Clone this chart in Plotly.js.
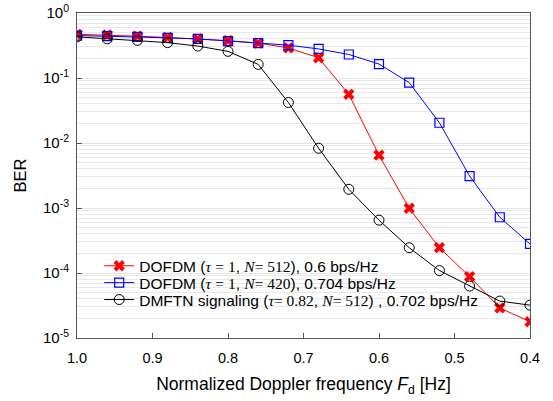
<!DOCTYPE html>
<html>
<head>
<meta charset="utf-8">
<script src="https://cdn.plot.ly/plotly-3.0.1.min.js"></script>
<style>html,body{margin:0;padding:0;background:#fff}#chart{width:553px;height:401px}</style>
</head>
<body>
<div id="chart"></div>
<script>
const fd = [1.0, 0.96, 0.92, 0.88, 0.84, 0.80, 0.76, 0.72, 0.68, 0.64, 0.60, 0.56, 0.52, 0.48, 0.44, 0.40];
const berDofdm512 = [0.47, 0.46, 0.44, 0.42, 0.40, 0.375, 0.345, 0.29, 0.205, 0.056, 0.0065, 0.00099, 0.000245, 8.8e-5, 2.9e-5, 1.78e-5];
const berDofdm420 = [0.45, 0.44, 0.43, 0.415, 0.40, 0.37, 0.345, 0.32, 0.28, 0.23, 0.164, 0.085, 0.0205, 0.0031, 0.00072, 0.00028];
const berDmftn = [0.43, 0.40, 0.38, 0.35, 0.31, 0.257, 0.162, 0.042, 0.0083, 0.00194, 0.00065, 0.000245, 0.000109, 6.3e-5, 3.7e-5, 3.2e-5];
const xTicks = [1.0, 0.9, 0.8, 0.7, 0.6, 0.5, 0.4];
const xTickText = ['1.0', '0.9', '0.8', '0.7', '0.6', '0.5', '0.4'];
const yTicks = [1e-5, 1e-4, 1e-3, 1e-2, 1e-1, 1];
const yTickText = ['10<sup>-5</sup>', '10<sup>-4</sup>', '10<sup>-3</sup>', '10<sup>-2</sup>', '10<sup>-1</sup>', '10<sup>0</sup>'];

const minorVals = [];
for (let e = -5; e < 0; e++) for (let m = 2; m <= 9; m++) minorVals.push(m * Math.pow(10, e));

const serif = 'font-family:Liberation Serif,Times New Roman,serif';
const tau = '<i><span style="' + serif + '">τ</span></i>';
const nn = '<i><span style="' + serif + '">N</span></i>';
const num = s => '<span style="' + serif + '">' + s + '</span>';

const traces = [
  {x: fd, y: berDofdm512, name: 'DOFDM (' + tau + ' ' + num('= 1') + ', ' + nn + num('= 512') + '), 0.6 bps/Hz',
   legend: 'legend',
   mode: 'lines+markers', line: {color: '#ff0000', width: 1},
   marker: {symbol: 'x', size: 10, color: '#ff0000', line: {width: 0}}},
  {x: fd, y: berDofdm420, name: 'DOFDM (' + tau + ' ' + num('= 1') + ', ' + nn + num('= 420') + '), 0.704 bps/Hz',
   legend: 'legend2',
   mode: 'lines+markers', line: {color: '#0000ff', width: 1},
   marker: {symbol: 'square-open', size: 9, color: '#0000ff', line: {width: 1.2}}},
  {x: fd, y: berDmftn, name: 'DMFTN signaling (' + tau + num('= 0.82') + ', ' + nn + num('= 512') + ') , 0.702 bps/Hz',
   legend: 'legend3',
   mode: 'lines+markers', line: {color: '#000000', width: 1},
   marker: {symbol: 'circle-open', size: 10, color: '#000000', line: {width: 1}}}
];

function leg(y) {
  return {x: 0.049, y: y, xanchor: 'left', yanchor: 'middle', bgcolor: 'rgba(0,0,0,0)', borderwidth: 0,
          font: {family: 'Liberation Sans, Arial, sans-serif', size: 15.5, color: '#000'}};
}

const layout = {
  width: 553, height: 401,
  margin: {l: 77, r: 23, t: 13, b: 63},
  paper_bgcolor: '#ffffff', plot_bgcolor: '#ffffff',
  font: {family: 'Liberation Sans, Arial, sans-serif', size: 14, color: '#000'},
  showlegend: true,
  legend: leg(0.221),
  legend2: leg(0.169),
  legend3: leg(0.117),
  xaxis: {
    range: [1.0, 0.4], tickvals: xTicks, ticktext: xTickText,
    ticks: 'inside', ticklen: 5, tickcolor: '#555', showgrid: false, zeroline: false,
    showline: true, linecolor: '#555', linewidth: 1, mirror: true,
    tickfont: {size: 14.5}, ticklabelstandoff: 7,
    title: {text: 'Normalized Doppler frequency <i>F</i><sub>d</sub> [Hz]', font: {size: 17.5}, standoff: 12}
  },
  yaxis: {
    type: 'log', range: [-5, 0], tickvals: yTicks, ticktext: yTickText,
    ticks: 'inside', ticklen: 5, tickcolor: '#555',
    showgrid: true, gridcolor: '#e4e4e4', gridwidth: 1, zeroline: false,
    showline: true, linecolor: '#555', linewidth: 1, mirror: true,
    tickfont: {size: 15}, ticklabelstandoff: 4,
    minor: {tickvals: minorVals, showgrid: true, gridcolor: '#e8e8e8', gridwidth: 1, ticks: ''},
    title: {text: 'BER', font: {size: 16.5}, standoff: 12}
  }
};

Plotly.newPlot('chart', traces, layout, {displayModeBar: false, staticPlot: true});
</script>
</body>
</html>
